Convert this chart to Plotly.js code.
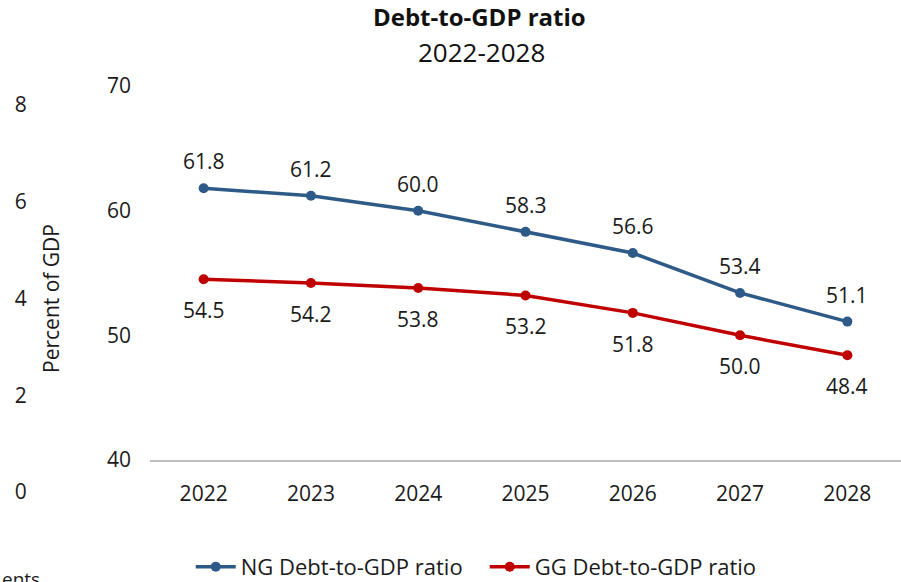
<!DOCTYPE html>
<html>
<head>
<meta charset="utf-8">
<script src="https://cdn.plot.ly/plotly-3.0.1.min.js"></script>
<style>html,body{margin:0;padding:0;background:#fff;}#chart{width:901px;height:582px;}</style>
</head>
<body>
<div id="chart"></div>
<script>
var years = ["2022", "2023", "2024", "2025", "2026", "2027", "2028"];
var ngDebt = [61.8, 61.2, 60.0, 58.3, 56.6, 53.4, 51.1];
var ggDebt = [54.5, 54.2, 53.8, 53.2, 51.8, 50.0, 48.4];
var leftTicks = [0, 2, 4, 6, 8];
var mainTicks = [40, 50, 60, 70];
var seriesNames = ["NG Debt-to-GDP ratio", "GG Debt-to-GDP ratio"];

var FONT = "Open Sans, sans-serif";
var blue = "#2E5A87";
var red = "#C00000";

var traces = [
  {x: years, y: ngDebt, name: seriesNames[0], type: "scatter", mode: "lines+markers",
   line: {color: blue, width: 3.5}, marker: {color: blue, size: 10}, xaxis: "x", yaxis: "y", hoverinfo: "none"},
  {x: years, y: ggDebt, name: seriesNames[1], type: "scatter", mode: "lines+markers",
   line: {color: red, width: 3.5}, marker: {color: red, size: 10}, xaxis: "x", yaxis: "y", hoverinfo: "none"},
  {x: [years[0]], y: [null], type: "scatter", mode: "markers", xaxis: "x", yaxis: "y2", showlegend: false, hoverinfo: "none"}
];

var annotations = [];
years.forEach(function (yr, i) {
  annotations.push({x: i, y: ngDebt[i], xref: "x", yref: "y", text: ngDebt[i].toFixed(1),
    showarrow: false, yshift: 27, font: {family: FONT, size: 21, color: "#1a1a1a"}});
  annotations.push({x: i, y: ggDebt[i], xref: "x", yref: "y", text: ggDebt[i].toFixed(1),
    showarrow: false, yshift: -31, font: {family: FONT, size: 21, color: "#1a1a1a"}});
});
annotations.push({x: 0, y: -0.19, xref: "paper", yref: "paper", xanchor: "left", yanchor: "middle",
  text: "ents", showarrow: false, font: {family: FONT, size: 19, color: "#1a1a1a"}});
annotations.push({x: 0.534, y: 1.082, xref: "paper", yref: "paper", xanchor: "center", yanchor: "middle",
  text: "2022-2028", showarrow: false, font: {family: FONT, size: 26, color: "#111"}});

var layout = {
  width: 901, height: 582,
  margin: {l: 0, r: 0, t: 86, b: 82},
  paper_bgcolor: "#ffffff", plot_bgcolor: "rgba(0,0,0,0)",
  font: {family: FONT, color: "#1a1a1a"},
  title: {
    text: "<b>Debt-to-GDP ratio</b>",
    x: 0.532, xanchor: "center", xref: "paper",
    y: 1 - 18 / 582, yanchor: "middle", yref: "container",
    font: {family: FONT, size: 24, color: "#111"}
  },
  showlegend: true,
  legend: {orientation: "h", x: 0.538, xanchor: "center", xref: "paper",
    y: 15 / 582, yanchor: "middle", yref: "container",
    entrywidth: 239, entrywidthmode: "pixels",
    font: {family: FONT, size: 22, color: "#1a1a1a"}, itemwidth: 40, traceorder: "normal"},
  xaxis: {
    type: "category", domain: [150 / 901, 1], anchor: "y",
    categoryorder: "array", categoryarray: years, range: [-0.5, years.length - 0.5], autorange: false,
    showgrid: false, zeroline: false, showline: true, linecolor: "#BFBFBF", linewidth: 2,
    ticks: "", ticklabelstandoff: 14,
    tickfont: {family: FONT, size: 21, color: "#1a1a1a"}
  },
  yaxis: {
    domain: [40 / 414, 1], anchor: "x", range: [40, 70], autorange: false, tickvals: mainTicks,
    showgrid: false, zeroline: false, showline: false, ticks: "", ticklabelstandoff: 18,
    tickfont: {family: FONT, size: 21, color: "#1a1a1a"}
  },
  yaxis2: {
    domain: [8 / 414, 395 / 414], anchor: "free", position: 0.013, side: "right",
    range: [0, 8], autorange: false, tickvals: leftTicks, showgrid: false, zeroline: false, showline: false,
    ticks: "", ticklabelstandoff: 2,
    tickfont: {family: FONT, size: 21, color: "#1a1a1a"},
    title: {text: "Percent of GDP", standoff: 18, font: {family: FONT, size: 21, color: "#1a1a1a"}}
  },
  annotations: annotations
};

Plotly.newPlot("chart", traces, layout, {displayModeBar: false, staticPlot: true});
</script>
</body>
</html>
